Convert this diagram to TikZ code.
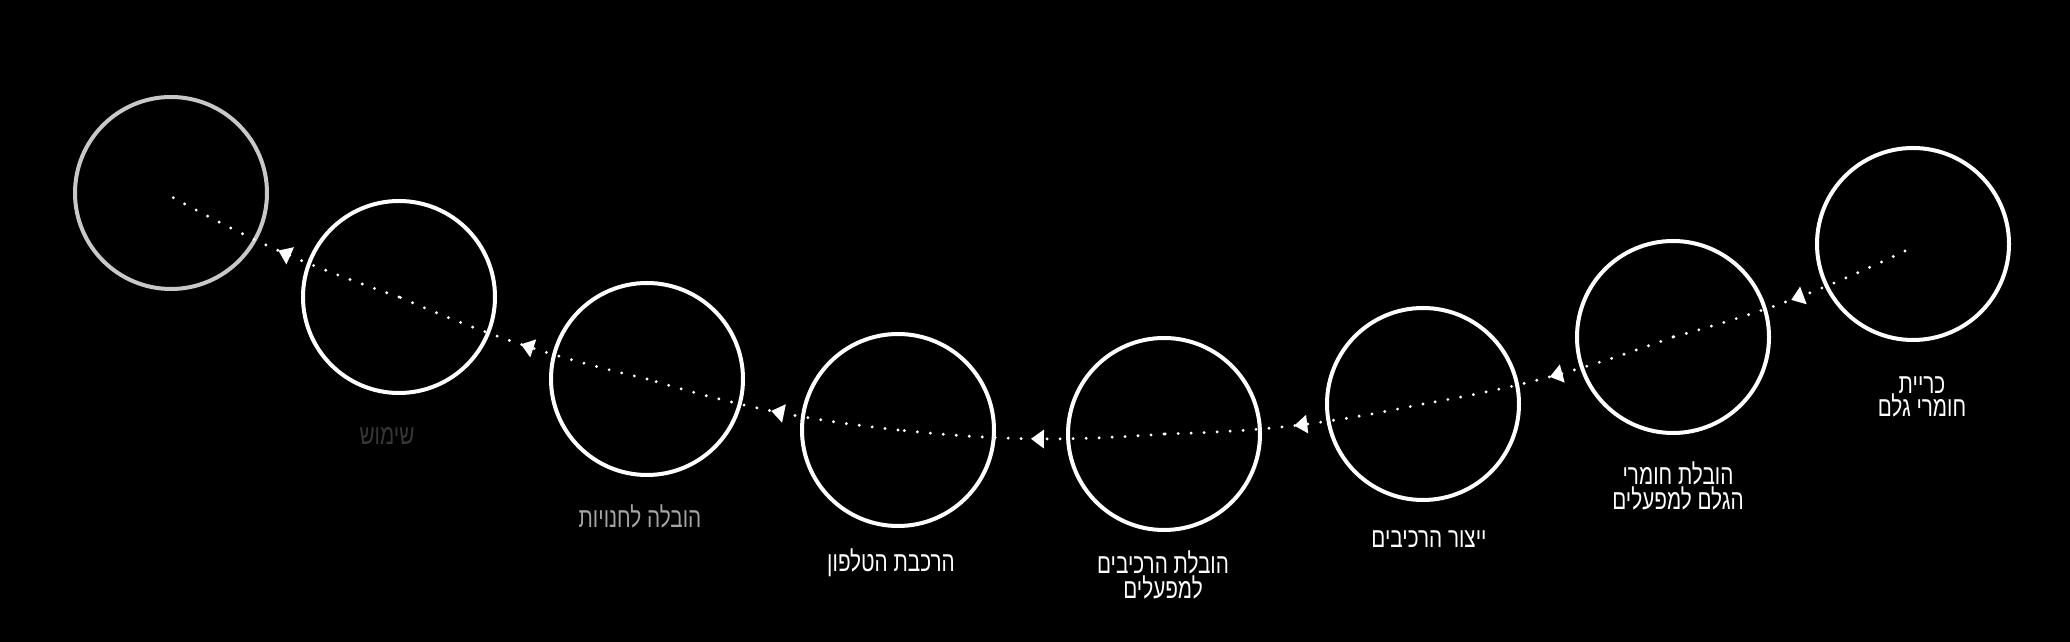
\documentclass[tikz,border=0pt]{standalone}
\usepackage{fontspec}
\setmainfont{Liberation Sans}[Script=Hebrew, FakeStretch=0.74]
\TeXXeTstate=1
\usetikzlibrary{arrows.meta,decorations.markings}
\begin{document}
\begin{tikzpicture}[x=1pt,y=1pt,
  stage/.style={circle, draw=white, line width=4pt, minimum size=192pt, inner sep=0pt, outer sep=0pt},
  lbl/.style={text=white, font=\fontsize{28}{21.5}\selectfont, align=center, inner sep=0pt},
  flow/.style={white, line width=3.2pt, dash pattern=on 0pt off 13pt, line cap=round, bend left=5,
    postaction={decorate},
    decoration={markings, mark=at position 0.5 with {\arrow{Triangle[length=13pt,width=18pt]}}}}]
\fill[black] (0,0) rectangle (2070,642);
\useasboundingbox (0,0) rectangle (2070,642);
% stages
\node[stage, draw={rgb,255:red,200;green,200;blue,200}] (c1) at (171,449) {};
\node[stage] (c2) at (399,345) {};
\node[stage] (c3) at (647,263) {};
\node[stage] (c4) at (898,212) {};
\node[stage] (c5) at (1164,208) {};
\node[stage] (c6) at (1423,238) {};
\node[stage] (c7) at (1673,305) {};
\node[stage] (c8) at (1913,398) {};
\coordinate (s) at (1905,391);
\coordinate (e) at (163,450);
% flow
\draw[flow] (s) to (c7.center);
\draw[flow] (c7.center) to (c6.center);
\draw[flow] (c6.center) to (c5.center);
\draw[flow] (c5.center) to (c4.center);
\draw[flow] (c4.center) to (c3.center);
\draw[flow] (c3.center) to (c2.center);
\draw[flow] (c2.center) to (e);
% labels
\node[lbl, text={rgb,255:red,55;green,55;blue,55}] (l1) at (387,206) {\beginR שימוש\endR};
\node[lbl, text={rgb,255:red,165;green,165;blue,165}] (l2) at (640,126) {\beginR הובלה לחנויות\endR};
\node[lbl] (l3) at (891,79) {\beginR הרכבת הטלפון\endR};
\node[lbl] (l4) at (1163,67) {\beginR הובלת הרכיבים\endR\\\beginR למפעלים\endR};
\node[lbl] (l5) at (1429,103) {\beginR ייצור הרכיבים\endR};
\node[lbl] (l6) at (1678,156) {\beginR הובלת חומרי\endR\\\beginR הגלם למפעלים\endR};
\node[lbl] (l7) at (1922,245) {\beginR כריית\endR\\\beginR חומרי גלם\endR};
\end{tikzpicture}
\end{document}
